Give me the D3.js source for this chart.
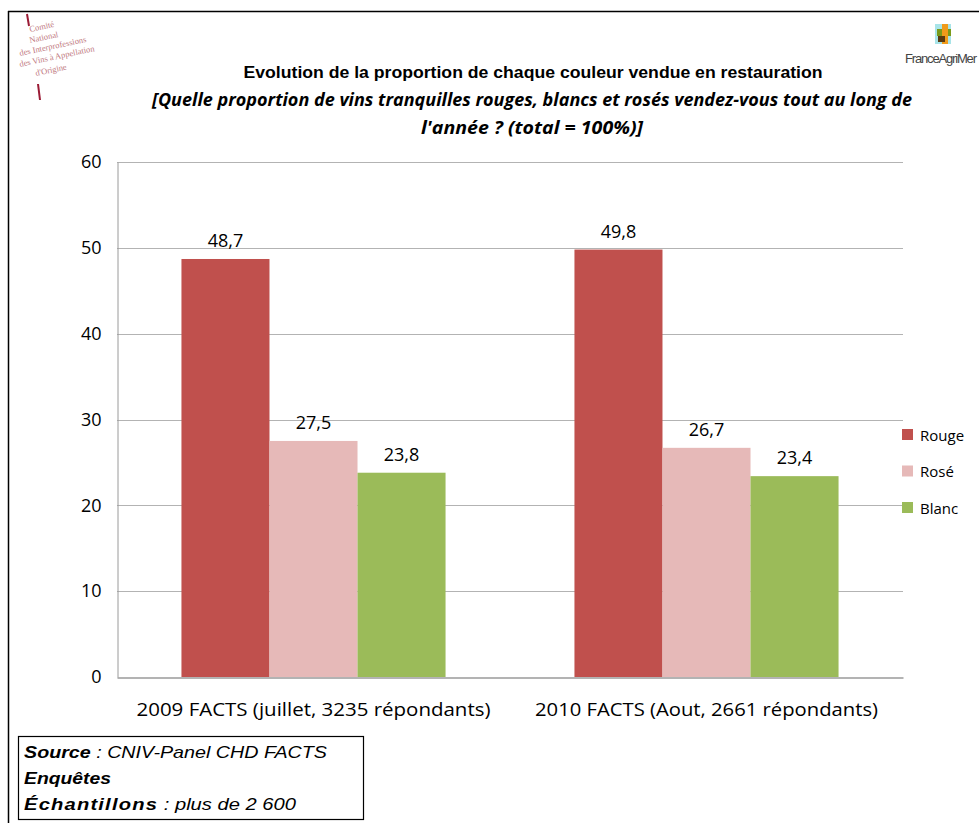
<!DOCTYPE html>
<html>
<head>
<meta charset="utf-8">
<script src="https://cdn.jsdelivr.net/npm/d3@7"></script>
<style>
  body { margin: 0; background: #fff; }
  svg { display: block; }
</style>
</head>
<body>
<svg id="chart" width="979" height="823"></svg>
<script>
const categories = ['2009 FACTS (juillet, 3235 répondants)', '2010 FACTS (Aout, 2661 répondants)'];
const seriesNames = ['Rouge', 'Rosé', 'Blanc'];
const rougeValues = [48.7, 49.8];
const roseValues = [27.5, 26.7];
const blancValues = [23.8, 23.4];
const yTicks = [0, 10, 20, 30, 40, 50, 60];
const colors = ['#C0504D', '#E6B9B8', '#9BBB59'];

const svg = d3.select('#chart');
const W = 979, H = 823;
const plotLeft = 117, plotRight = 903, plotTop = 162, plotBottom = 677;
const bodyFont = 'Open Sans, sans-serif';

// frame
svg.append('line').attr('x1', 8).attr('x2', W).attr('y1', 11.5).attr('y2', 11.5).attr('stroke', '#000').attr('stroke-width', 1.5);
svg.append('line').attr('x1', 8.5).attr('x2', 8.5).attr('y1', 11).attr('y2', H).attr('stroke', '#000').attr('stroke-width', 1.5);

// CNIV logo (top left)
const logo = svg.append('g').attr('transform', 'translate(20, 14)');
logo.append('line').attr('x1', 7).attr('y1', 0).attr('x2', 9).attr('y2', 12).attr('stroke', '#9b1b35').attr('stroke-width', 2);
logo.append('line').attr('x1', 18).attr('y1', 70).attr('x2', 20).attr('y2', 86).attr('stroke', '#9b1b35').attr('stroke-width', 2);
const logoLines = [['Comité', 10, 18], ['National', 10, 29], ['des Interprofessions', 0, 42], ['des Vins à Appellation', 0, 53], ["d'Origine", 16, 62]];
logo.selectAll('text.logo').data(logoLines).enter().append('text')
  .attr('transform', d => `translate(${d[1]},${d[2]}) rotate(-12)`)
  .attr('font-family', 'Liberation Serif, serif')
  .attr('font-size', 8.5)
  .attr('fill', '#c07880')
  .text(d => d[0]);

// FranceAgriMer logo (top right)
const fam = svg.append('g').attr('transform', 'translate(937, 24)');
fam.append('rect').attr('x', -2).attr('y', 0).attr('width', 16).attr('height', 20).attr('fill', '#a8e4e8');
fam.append('rect').attr('x', 0).attr('y', 5).attr('width', 14).attr('height', 7).attr('fill', '#7a9a1a');
fam.append('rect').attr('x', 5).attr('y', 0).attr('width', 6).attr('height', 20).attr('fill', '#f09a1a');
fam.append('rect').attr('x', 1).attr('y', 12).attr('width', 7).attr('height', 6).attr('fill', '#5a3a10');
svg.append('text').attr('x', 941).attr('y', 63).attr('text-anchor', 'middle')
  .attr('font-family', 'Liberation Sans Narrow, Liberation Sans, sans-serif').attr('font-size', 13).attr('fill', '#444')
  .attr('textLength', 72).text('FranceAgriMer');

// titles
svg.append('text').attr('x', 533).attr('y', 78).attr('text-anchor', 'middle')
  .attr('font-family', 'Liberation Sans, Arial, sans-serif').attr('font-weight', 'bold').attr('font-size', 16)
  .attr('textLength', 579).attr('lengthAdjust', 'spacingAndGlyphs')
  .text('Evolution de la proportion de chaque couleur vendue en restauration');
svg.append('text').attr('x', 532).attr('y', 106).attr('text-anchor', 'middle')
  .attr('font-family', bodyFont).attr('font-weight', 'bold').attr('font-style', 'italic').attr('font-size', 17)
  .attr('textLength', 760).attr('lengthAdjust', 'spacingAndGlyphs')
  .text('[Quelle proportion de vins tranquilles rouges, blancs et rosés vendez-vous tout au long de');
svg.append('text').attr('x', 532).attr('y', 134).attr('text-anchor', 'middle')
  .attr('font-family', bodyFont).attr('font-weight', 'bold').attr('font-style', 'italic').attr('font-size', 17)
  .attr('textLength', 222).attr('lengthAdjust', 'spacingAndGlyphs')
  .text("l'année ? (total = 100%)]");

// scales
const y = d3.scaleLinear().domain([0, 60]).range([plotBottom, plotTop]);
const x0 = d3.scaleBand().domain(categories).range([plotLeft, plotRight]).paddingInner(0.328).paddingOuter(0.164);
const x1 = d3.scaleBand().domain(seriesNames).range([0, x0.bandwidth()]);

// gridlines
svg.append('g').selectAll('line').data(yTicks.filter(d => d > 0)).enter().append('line')
  .attr('x1', plotLeft).attr('x2', plotRight).attr('y1', d => Math.round(y(d)) + 0.5).attr('y2', d => Math.round(y(d)) + 0.5)
  .attr('stroke', '#b3b3b3').attr('stroke-width', 1);

const data = categories.map((c, i) => ({ cat: c, vals: [rougeValues[i], roseValues[i], blancValues[i]] }));

const groups = svg.append('g').selectAll('g').data(data).enter().append('g')
  .attr('transform', d => `translate(${x0(d.cat)},0)`);
groups.selectAll('rect').data(d => d.vals.map((v, j) => ({ s: seriesNames[j], v, j }))).enter().append('rect')
  .attr('x', d => x1(d.s)).attr('width', x1.bandwidth())
  .attr('y', d => y(d.v)).attr('height', d => y(0) - y(d.v))
  .attr('fill', d => colors[d.j]);
groups.selectAll('text').data(d => d.vals.map((v, j) => ({ s: seriesNames[j], v }))).enter().append('text')
  .attr('x', d => x1(d.s) + x1.bandwidth() / 2).attr('y', d => y(d.v) - 12)
  .attr('text-anchor', 'middle').attr('font-family', bodyFont).attr('font-size', 18).attr('fill', '#000')
  .text(d => d3.format('.1f')(d.v).replace('.', ','));

// axes
const yAxis = svg.append('g').attr('transform', `translate(${plotLeft + 0.5},0)`)
  .call(d3.axisLeft(y).tickValues(yTicks).tickSize(0).tickPadding(16));
yAxis.select('.domain').attr('stroke', '#9a9a9a');
yAxis.selectAll('text').attr('font-family', bodyFont).attr('font-size', 18).attr('fill', '#000');

const xAxis = svg.append('g').attr('transform', `translate(0,${plotBottom + 0.5})`)
  .call(d3.axisBottom(x0).tickSize(0).tickPadding(26));
xAxis.select('.domain').attr('stroke', '#9a9a9a').attr('stroke-width', 1.5);
xAxis.selectAll('text').attr('font-family', bodyFont).attr('font-size', 18).attr('fill', '#000')
  .attr('textLength', (d, i) => [354, 343][i]).attr('lengthAdjust', 'spacingAndGlyphs');

// legend
const legend = svg.append('g').selectAll('g').data(seriesNames).enter().append('g')
  .attr('transform', (d, i) => `translate(902,${429 + i * 36.5})`);
legend.append('rect').attr('width', 11).attr('height', 11).attr('fill', (d, i) => colors[i]);
legend.append('text').attr('x', 18).attr('y', 11.5).attr('font-family', bodyFont).attr('font-size', 15)
  .text(d => d);

// source box
svg.append('rect').attr('x', 18.5).attr('y', 736.5).attr('width', 345).attr('height', 83).attr('fill', '#fff').attr('stroke', '#000').attr('stroke-width', 1.2);
const src = svg.append('g').attr('font-family', 'Liberation Sans, Arial, sans-serif').attr('font-size', 17).attr('font-style', 'italic');
const t1 = src.append('text').attr('x', 24).attr('y', 758).attr('textLength', 303).attr('lengthAdjust', 'spacingAndGlyphs');
t1.append('tspan').attr('font-weight', 'bold').text('Source');
t1.append('tspan').text(' : CNIV-Panel  CHD FACTS');
src.append('text').attr('x', 24).attr('y', 784).attr('font-weight', 'bold')
  .attr('textLength', 87).attr('lengthAdjust', 'spacingAndGlyphs').text('Enquêtes');
const t3 = src.append('text').attr('x', 24).attr('y', 810).attr('textLength', 272).attr('lengthAdjust', 'spacingAndGlyphs');
t3.append('tspan').attr('font-weight', 'bold').attr('letter-spacing', 1).text('Échantillons');
t3.append('tspan').text(' :  plus de 2 600');
</script>
</body>
</html>
